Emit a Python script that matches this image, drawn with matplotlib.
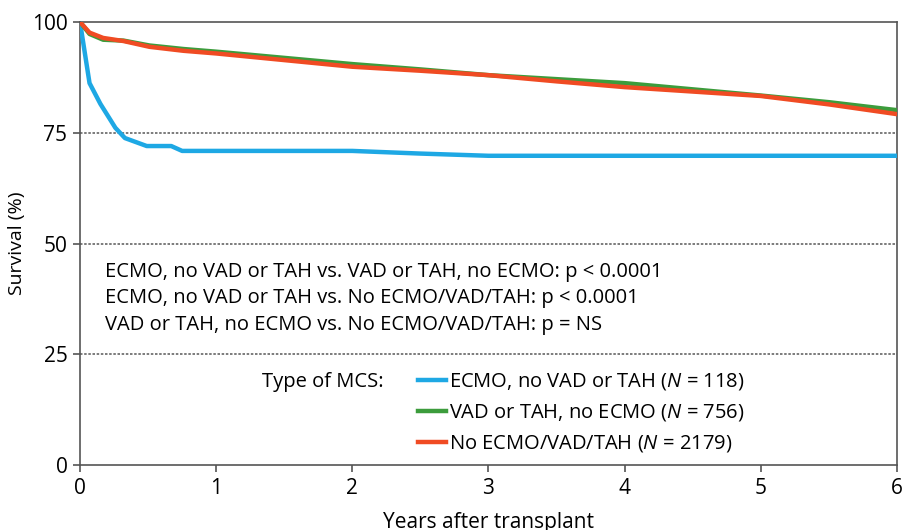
import matplotlib
matplotlib.use("Agg")
import matplotlib.pyplot as plt

plt.rcParams["font.family"] = ["Open Sans", "DejaVu Sans"]
plt.rcParams["mathtext.fontset"] = "custom"
plt.rcParams["mathtext.it"] = "Open Sans:italic"
plt.rcParams["mathtext.rm"] = "Open Sans"

# survival curves (years, %)
ecmo_x = [0, 0.07, 0.15, 0.26, 0.33, 0.49, 0.67, 0.75, 1.0, 2.0, 2.5, 3.0, 4.0, 5.0, 6.0]
ecmo_y = [100, 86.2, 81.5, 76.1, 73.8, 72.0, 72.0, 70.9, 70.9, 70.9, 70.3, 69.8, 69.8, 69.8, 69.8]

vad_x = [0, 0.07, 0.17, 0.32, 0.51, 0.76, 1.0, 1.5, 2.0, 2.5, 3.0, 3.5, 4.0, 4.5, 5.0, 5.5, 6.0]
vad_y = [100, 97.3, 96.0, 95.8, 94.7, 93.9, 93.3, 91.9, 90.5, 89.3, 88.0, 87.1, 86.2, 84.8, 83.4, 81.9, 80.1]

none_x = [0, 0.07, 0.17, 0.32, 0.51, 0.76, 1.0, 1.5, 2.0, 2.5, 3.0, 3.5, 4.0, 4.5, 5.0, 5.5, 6.0]
none_y = [100, 97.6, 96.4, 95.7, 94.4, 93.5, 92.9, 91.4, 89.9, 89.0, 88.0, 86.6, 85.3, 84.3, 83.3, 81.4, 79.2]

labels = [r"ECMO, no VAD or TAH ($\mathit{N}$ = 118)",
          r"VAD or TAH, no ECMO ($\mathit{N}$ = 756)",
          r"No ECMO/VAD/TAH ($\mathit{N}$ = 2179)"]
pvals = ["ECMO, no VAD or TAH vs. VAD or TAH, no ECMO: p < 0.0001",
         "ECMO, no VAD or TAH vs. No ECMO/VAD/TAH: p < 0.0001",
         "VAD or TAH, no ECMO vs. No ECMO/VAD/TAH: p = NS"]

fig = plt.figure(figsize=(9.03, 5.30), dpi=100)
ax = fig.add_axes([80 / 903, 1 - 465 / 530, 817 / 903, 443 / 530])

for v in [25, 50, 75]:
    ax.axhline(v, color="#666666", lw=1.2, ls=(0, (1.5, 1)), zorder=1)

l1, = ax.plot(ecmo_x, ecmo_y, color="#1ea8e4", lw=3.2, zorder=3)
l2, = ax.plot(vad_x, vad_y, color="#3c9c3c", lw=3.2, zorder=3)
l3, = ax.plot(none_x, none_y, color="#f04b23", lw=3.2, zorder=4)

ax.set_xlim(0, 6)
ax.set_ylim(0, 100)
ax.set_xticks(range(7))
ax.set_yticks([0, 25, 50, 75, 100])
for s in ax.spines.values():
    s.set_color("#555555")
    s.set_linewidth(1.2)
ax.tick_params(labelsize=15, color="#555555", length=5, width=1.2, pad=4)
ax.set_ylabel("Survival (%)", fontsize=14)
ax.set_xlabel("Years after transplant", fontsize=15, labelpad=10)

for i, t in enumerate(pvals):
    ax.text(0.18, 43.5 - i * 5.9, t, fontsize=14.5, va="center")

ax.text(1.34, 18.8, "Type of MCS:", fontsize=14.5, va="center")
leg = ax.legend([l1, l2, l3], labels, loc="upper left",
                bbox_to_anchor=(408 / 903, 1 - 361 / 530), bbox_transform=fig.transFigure,
                frameon=False, fontsize=14.5, handlelength=1.4, handletextpad=0.15,
                labelspacing=0.5, borderpad=0)

fig.savefig("out.png", dpi=100)
